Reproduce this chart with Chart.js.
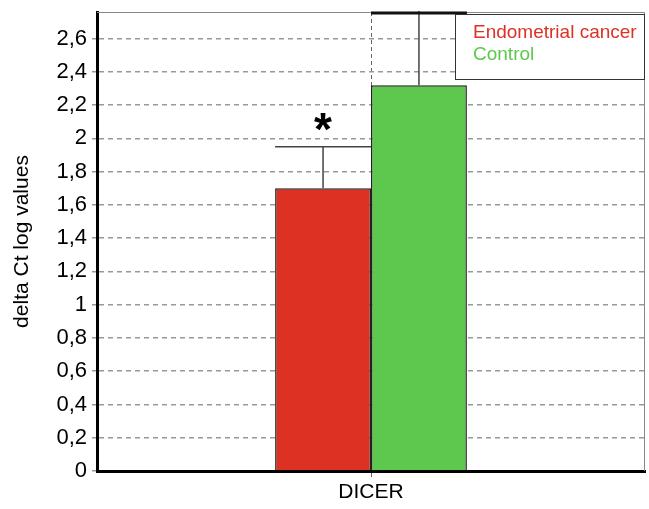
<!DOCTYPE html>
<html>
<head>
<meta charset="utf-8">
<script src="https://cdn.jsdelivr.net/npm/chart.js@4"></script>
<style>
  html, body { margin: 0; padding: 0; background: #fff; }
  #wrap { width: 649px; height: 509px; }
</style>
</head>
<body>
<div id="wrap"><canvas id="chart" width="649" height="509"></canvas></div>
<script>
// values
const categories = ['DICER'];
const seriesNames = ['Endometrial cancer', 'Control'];
const seriesColors = ['#dd3124', '#5ec84e'];
const cancerValues = [1.70];
const controlValues = [2.32];
const cancerErrTop = [1.95];
const controlErrTop = [2.78];
const yMax = 2.76;

const fmt = v => String(+v.toFixed(1)).replace('.', ',');
const FONT = '"Liberation Sans", Arial, sans-serif';

// error bars, asterisk, legend box and frame
const extras = {
  id: 'extras',
  afterDatasetsDraw(chart) {
    const ctx = chart.ctx;
    const area = chart.chartArea;
    const y = chart.scales.y;
    const tops = [cancerErrTop, controlErrTop];
    ctx.save();
    ctx.beginPath();
    ctx.rect(area.left, area.top - 1, area.right - area.left, area.bottom - area.top + 1);
    ctx.clip();
    tops.forEach((errs, di) => {
      const meta = chart.getDatasetMeta(di);
      meta.data.forEach((bar, i) => {
        const yTop = y.getPixelForValue(errs[i]);
        const half = bar.width / 2;
        ctx.strokeStyle = '#444';
        ctx.lineWidth = 1.5;
        ctx.beginPath();
        ctx.moveTo(bar.x, bar.y);
        ctx.lineTo(bar.x, yTop);
        ctx.moveTo(bar.x - half, yTop);
        ctx.lineTo(bar.x + half, yTop);
        ctx.stroke();
      });
    });
    ctx.restore();

    // thin frame top/right
    ctx.save();
    ctx.strokeStyle = '#888';
    ctx.lineWidth = 1;
    ctx.beginPath();
    ctx.moveTo(area.left, area.top + 0.5);
    ctx.lineTo(area.right - 0.5, area.top + 0.5);
    ctx.lineTo(area.right - 0.5, area.bottom);
    ctx.stroke();
    // green whisker runs off the top: heavy cap along the frame
    const green = chart.getDatasetMeta(1).data[0];
    ctx.strokeStyle = '#111';
    ctx.lineWidth = 3;
    ctx.beginPath();
    ctx.moveTo(green.x - green.width / 2, area.top + 1);
    ctx.lineTo(green.x + green.width / 2, area.top + 1);
    ctx.stroke();
    ctx.restore();

    // significance mark
    const red = chart.getDatasetMeta(0).data[0];
    ctx.save();
    ctx.fillStyle = '#000';
    ctx.font = 'bold 46px ' + FONT;
    ctx.textAlign = 'center';
    ctx.textBaseline = 'middle';
    ctx.fillText('*', red.x, y.getPixelForValue(cancerErrTop[0]) - 14);
    ctx.restore();

    // legend box
    const bx = 455, by = 14, bw = area.right - 455, bh = 66;
    ctx.save();
    ctx.fillStyle = '#fff';
    ctx.fillRect(bx, by, bw, bh);
    ctx.strokeStyle = '#333';
    ctx.lineWidth = 1;
    ctx.strokeRect(bx + 0.5, by + 0.5, bw - 1, bh - 1);
    ctx.font = '19px ' + FONT;
    ctx.textBaseline = 'middle';
    seriesNames.forEach((n, i) => {
      ctx.fillStyle = seriesColors[i];
      ctx.fillText(n, 473, 33 + i * 22);
    });
    ctx.restore();
  }
};

new Chart(document.getElementById('chart'), {
  type: 'bar',
  data: {
    labels: categories,
    datasets: [
      { label: seriesNames[0], data: cancerValues, backgroundColor: seriesColors[0], borderColor: '#222', borderWidth: 1.5, borderSkipped: 'bottom' },
      { label: seriesNames[1], data: controlValues, backgroundColor: seriesColors[1], borderColor: '#222', borderWidth: 1.5, borderSkipped: 'bottom' }
    ]
  },
  options: {
    responsive: false,
    animation: false,
    layout: { padding: { top: 12, right: 4, left: 0, bottom: 0 } },
    plugins: { legend: { display: false }, tooltip: { enabled: false } },
    datasets: { bar: { categoryPercentage: 0.35, barPercentage: 1 } },
    scales: {
      x: {
        grid: { offset: false, color: '#666', lineWidth: 1, tickLength: 6 },
        border: { color: '#000', width: 3, dash: [4, 3] },
        ticks: { color: '#000', font: { size: 21, family: FONT }, padding: 3 },
        afterFit: s => { s.height = 38; }
      },
      y: {
        min: 0,
        max: yMax,
        grid: { color: '#999', lineWidth: 1.5, tickLength: 5, drawOnChartArea: true },
        border: { color: '#000', width: 3, dash: [5, 4] },
        ticks: {
          stepSize: 0.2,
          color: '#000',
          padding: 5,
          font: { size: 22, family: FONT },
          callback: v => fmt(v)
        },
        afterBuildTicks: s => { s.ticks = s.ticks.filter(t => Math.abs(t.value * 5 - Math.round(t.value * 5)) < 1e-6); },
        title: { display: true, text: 'delta Ct log values', color: '#000', font: { size: 21, family: FONT }, padding: { top: 10, bottom: 0 } },
        afterFit: s => { s.width = 97; s.paddingTop = 0; s.paddingBottom = 0; }
      }
    }
  },
  plugins: [extras]
});
</script>
</body>
</html>
